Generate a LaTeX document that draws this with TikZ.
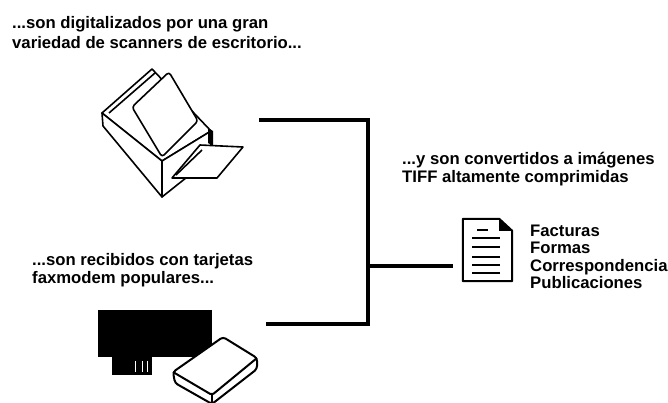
\documentclass[tikz,border=0pt]{standalone}
\usepackage{fontspec}
\setmainfont{Liberation Sans}
\usetikzlibrary{positioning}

\begin{document}
\begin{tikzpicture}[x=1pt, y=-1pt,
  font=\fontsize{16.7}{18}\selectfont\bfseries,
  txt/.style={align=left, inner sep=0pt, anchor=base west},
  item/.style={inner sep=0pt, anchor=base west},
  link/.style={line width=4.5pt},
  icon/.style={line width=1.6pt, line join=round},
  page/.style={minimum width=49pt, minimum height=62pt, inner sep=0pt},
  node distance=17.5pt]
\useasboundingbox (0,0) rectangle (668,403);

% Captions (anchored on their last line)
\node[txt] (tscan) at (12,49) {...son digitalizados por una gran\\[2pt]variedad de scanners de escritorio...};
\node[txt] (tfax) at (32,283) {...son recibidos con tarjetas\\faxmodem populares...};
\node[txt] (ttiff) at (402,183) {...y son convertidos a imágenes\\TIFF altamente comprimidas};

% Desktop scanner
\draw[icon, fill=white] (102,113) -- (152,69) -- (211,131) -- (162,161) -- cycle;
\draw[icon, fill=white] (102,113) -- (103,126) -- (162,197) -- (162,161) -- cycle;
\draw[icon, fill=white] (162,161) -- (211,131) -- (211,158) -- (162,197) -- cycle;
\draw[icon] (109,113) -- (155,73);
\draw[icon, fill=white, rounded corners=3pt] (132,107) -- (169,72) -- (198,121) -- (162,157) -- cycle;
\fill (208,128) -- (213,131) -- (213,146) -- (208,143) -- cycle;
\draw[icon, fill=white] (200,145) -- (243,147) -- (217,178) -- (172,178) -- cycle;
\draw[icon] (176,175) -- (202,150);

% Faxmodem card and modem
\fill (98,310) rectangle (212,357);
\fill (112,357) rectangle (152,375);
\foreach \x in {135,142,147}
  \draw[white, line width=0.8pt] (\x,361) -- (\x,372);
\draw[icon, line width=2pt, fill=white, rounded corners=3pt]
  (173,372) -- (223,337) -- (257,358) -- (257,369) -- (212,404) -- (175,383) -- cycle;
\draw[icon, line width=2pt, rounded corners=2pt] (173,372) -- (212,395) -- (257,358);
\draw[icon, line width=2pt] (212,395) -- (212,404);

% TIFF page
\node[page] (doc) at (487.5,250) {};
\draw[icon, line width=2pt] (doc.north west) -- ([xshift=-13pt]doc.north east)
  -- ([yshift=-12pt]doc.north east) -- (doc.south east) -- (doc.south west) -- cycle;
\fill ([xshift=-13pt]doc.north east) -- ([xshift=-13pt,yshift=-12pt]doc.north east)
  -- ([yshift=-12pt]doc.north east) -- cycle;
\draw[line width=1.4pt] (477,230) -- (488,230);
\foreach \y in {238,247,257,265,273}
  \draw[line width=1.4pt] (472,\y) -- (500,\y);

% Document types
\node[item] (fact) at (530,236) {Facturas};
\node[item, below=of fact.base west, anchor=base west] (form) {Formas};
\node[item, below=of form.base west, anchor=base west] (corr) {Correspondencia};
\node[item, below=of corr.base west, anchor=base west] (publ) {Publicaciones};

% Bracket joining both sources to the page
\coordinate (scan) at (259,120);
\coordinate (fax) at (266,324);
\coordinate (bus) at (368,266);
\draw[link] (scan) -| (bus) |- (fax);
\draw[link, shorten >=10pt] (bus) -- (bus -| doc.west);
\end{tikzpicture}
\end{document}
